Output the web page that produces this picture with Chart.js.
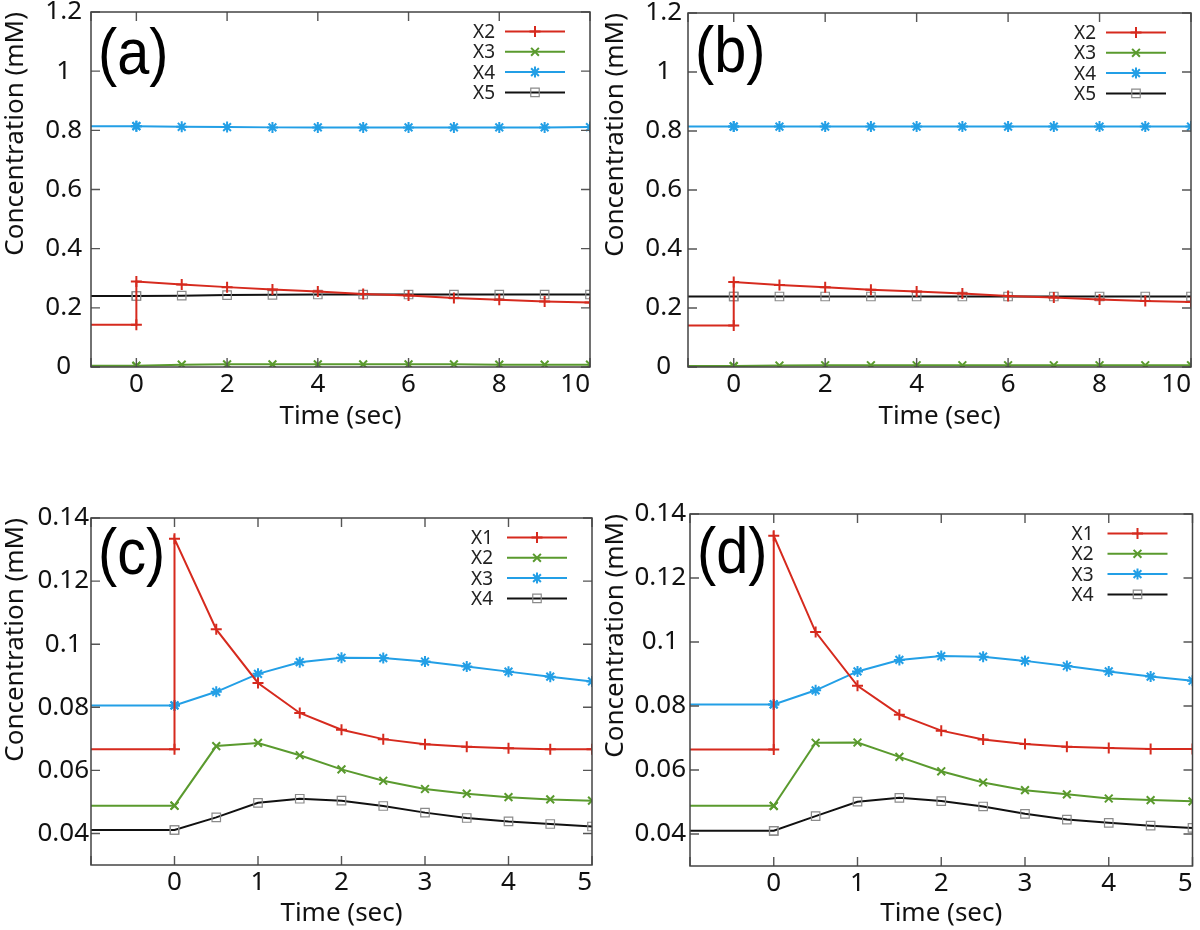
<!DOCTYPE html>
<html>
<head>
<meta charset="utf-8">
<script src="https://cdn.jsdelivr.net/npm/chart.js@4.4.1/dist/chart.umd.min.js"></script>
<style>
  body { margin: 0; background: #fff; }
  #wrap { position: relative; width: 1200px; height: 930px; }
  .panel { position: absolute; width: 600px; }
  #pa { left: 0; top: 0; height: 432px; }
  #pb { left: 600px; top: 0; height: 432px; }
  #pc { left: 0; top: 460px; height: 469px; }
  #pd { left: 600px; top: 460px; height: 469px; }
</style>
</head>
<body>
<div id="wrap">
  <div class="panel" id="pa"><canvas id="chartA"></canvas></div>
  <div class="panel" id="pb"><canvas id="chartB"></canvas></div>
  <div class="panel" id="pc"><canvas id="chartC"></canvas></div>
  <div class="panel" id="pd"><canvas id="chartD"></canvas></div>
</div>
<script>
// ---- data: upper panels (a), (b) ----
var timeTop = [0, 1, 2, 3, 4, 5, 6, 7, 8, 9, 10];
var xTicksTop = [0, 2, 4, 6, 8, 10];
var yTicksTop = [0, 0.2, 0.4, 0.6, 0.8, 1, 1.2];
var namesTop = ['X2', 'X3', 'X4', 'X5'];

// value held before t = 0, then values at timeTop
var a_before = [0.143, 0.004, 0.814, 0.240];
var a_X2 = [0.289, 0.279, 0.270, 0.262, 0.255, 0.247, 0.242, 0.233, 0.227, 0.221, 0.218];
var a_X3 = [0.004, 0.008, 0.009, 0.009, 0.009, 0.009, 0.009, 0.009, 0.008, 0.008, 0.008];
var a_X4 = [0.814, 0.812, 0.811, 0.810, 0.810, 0.810, 0.810, 0.810, 0.810, 0.810, 0.811];
var a_X5 = [0.240, 0.241, 0.243, 0.244, 0.245, 0.245, 0.245, 0.245, 0.245, 0.245, 0.245];

var b_before = [0.141, 0.003, 0.815, 0.239];
var b_X2 = [0.288, 0.278, 0.270, 0.262, 0.256, 0.249, 0.241, 0.236, 0.229, 0.224, 0.220];
var b_X3 = [0.003, 0.005, 0.006, 0.006, 0.006, 0.006, 0.006, 0.006, 0.006, 0.006, 0.006];
var b_X4 = [0.815, 0.815, 0.815, 0.815, 0.815, 0.815, 0.815, 0.815, 0.815, 0.815, 0.815];
var b_X5 = [0.239, 0.239, 0.239, 0.239, 0.239, 0.239, 0.239, 0.239, 0.239, 0.239, 0.239];

// ---- data: lower panels (c), (d) ----
var timeBot = [0, 0.5, 1, 1.5, 2, 2.5, 3, 3.5, 4, 4.5, 5];
var xTicksBot = [0, 1, 2, 3, 4, 5];
var yTicksBot = [0.04, 0.06, 0.08, 0.1, 0.12, 0.14];
var namesBot = ['X1', 'X2', 'X3', 'X4'];

var c_before = [0.0667, 0.0488, 0.0806, 0.0411];
var c_X1 = [0.1334, 0.1047, 0.0877, 0.0782, 0.0729, 0.0699, 0.0683, 0.0675, 0.0670, 0.0667, 0.0667];
var c_X2 = [0.0488, 0.0677, 0.0687, 0.0648, 0.0603, 0.0567, 0.0541, 0.0526, 0.0515, 0.0508, 0.0504];
var c_X3 = [0.0806, 0.0849, 0.0906, 0.0943, 0.0957, 0.0956, 0.0945, 0.0929, 0.0913, 0.0897, 0.0882];
var c_X4 = [0.0411, 0.0451, 0.0497, 0.0510, 0.0504, 0.0487, 0.0466, 0.0449, 0.0438, 0.0430, 0.0422];

var d_before = [0.0664, 0.0488, 0.0805, 0.0410];
var d_X1 = [0.1332, 0.1031, 0.0863, 0.0773, 0.0723, 0.0695, 0.0681, 0.0673, 0.0669, 0.0666, 0.0666];
var d_X2 = [0.0488, 0.0685, 0.0686, 0.0641, 0.0596, 0.0561, 0.0537, 0.0524, 0.0511, 0.0506, 0.0502];
var d_X3 = [0.0805, 0.0849, 0.0908, 0.0944, 0.0956, 0.0954, 0.0941, 0.0925, 0.0908, 0.0892, 0.0879];
var d_X4 = [0.0410, 0.0456, 0.0501, 0.0513, 0.0503, 0.0486, 0.0463, 0.0445, 0.0435, 0.0426, 0.0419];

// line styles: red +, green x, blue *, black open square
var styles = [
    { color: '#d62a1e', point: 'cross', radius: 5.5, pointColor: '#d62a1e', pw: 2 },
    { color: '#5a9a2e', point: 'crossRot', radius: 5.5, pointColor: '#5a9a2e', pw: 2 },
    { color: '#239fe6', point: 'star', radius: 5.5, pointColor: '#239fe6', pw: 2 },
    { color: '#111111', point: 'rect', radius: 6, pointColor: '#8a8a8a', pw: 1.2 }
];

var FONT = '"Noto Sans", "DejaVu Sans", sans-serif';

function series(times, before, values) {
    var pts = [{ x: -1, y: before }, { x: 0, y: before }];
    for (var i = 0; i < times.length; i++) pts.push({ x: times[i], y: values[i] });
    return pts;
}

function makeDatasets(names, times, before, list) {
    return names.map(function (name, i) {
        var s = styles[i];
        return {
            label: name,
            data: series(times, before[i], list[i]),
            showLine: true,
            borderColor: s.color,
            borderWidth: 2,
            pointStyle: s.point,
            pointRadius: function (c) { return c.raw && c.raw.x < 0 ? 0 : s.radius; },
            pointHoverRadius: 0,
            pointBorderColor: s.pointColor,
            pointBackgroundColor: 'rgba(255,255,255,0)',
            pointBorderWidth: s.pw,
            tension: 0
        };
    });
}

// frame with inward ticks on all four sides, panel letter, legend
var framePlugin = {
    id: 'frame',
    afterDatasetsDraw: function (chart, args, opts) {
        var ctx = chart.ctx, a = chart.chartArea, sx = chart.scales.x, sy = chart.scales.y;
        ctx.save();
        ctx.strokeStyle = '#555';
        ctx.lineWidth = 1.4;
        ctx.beginPath();
        sx.ticks.forEach(function (t) {
            var px = sx.getPixelForValue(t.value);
            ctx.moveTo(px, a.bottom); ctx.lineTo(px, a.bottom - 9);
            ctx.moveTo(px, a.top); ctx.lineTo(px, a.top + 9);
        });
        sy.ticks.forEach(function (t) {
            var py = sy.getPixelForValue(t.value);
            ctx.moveTo(a.left, py); ctx.lineTo(a.left + 9, py);
            ctx.moveTo(a.right, py); ctx.lineTo(a.right - 9, py);
        });
        ctx.stroke();
        ctx.strokeStyle = '#444';
        ctx.lineWidth = 1.5;
        ctx.strokeRect(a.left, a.top, a.right - a.left, a.bottom - a.top);

        // panel letter, slightly condensed
        ctx.save();
        ctx.translate(a.left + 7, a.top + opts.labelY);
        ctx.scale(0.9, 1);
        ctx.fillStyle = '#000';
        ctx.font = '64px "Liberation Sans", Arial, sans-serif';
        ctx.textAlign = 'left';
        ctx.textBaseline = 'alphabetic';
        ctx.fillText(opts.label, 0, 0);
        ctx.restore();

        ctx.font = '19px ' + FONT;
        ctx.textAlign = 'right';
        ctx.textBaseline = 'middle';
        chart.data.datasets.forEach(function (ds, i) {
            var y = a.top + 19.5 + i * 20.3;
            var x0 = a.right - 85, x1 = a.right - 25;
            ctx.fillStyle = '#222';
            ctx.fillText(ds.label, x0 - opts.gap, y + 1);
            ctx.strokeStyle = ds.borderColor;
            ctx.lineWidth = 2;
            ctx.beginPath();
            ctx.moveTo(x0, y); ctx.lineTo(x1, y);
            ctx.stroke();
            ctx.strokeStyle = ds.pointBorderColor;
            ctx.fillStyle = 'rgba(255,255,255,0)';
            ctx.lineWidth = ds.pointBorderWidth;
            Chart.helpers.drawPoint(ctx, {
                pointStyle: ds.pointStyle, rotation: 0,
                radius: ds.pointStyle === 'rect' ? 6 : 5.5,
                borderWidth: ds.pointBorderWidth
            }, (x0 + x1) / 2, y);
        });
        ctx.restore();
    }
};

function fmt(v) { return String(Math.round(v * 1000) / 1000); }

function makeChart(id, p) {
    return new Chart(document.getElementById(id), {
        type: 'scatter',
        data: { datasets: p.datasets },
        plugins: [framePlugin],
        options: {
            responsive: true,
            maintainAspectRatio: false,
            animation: false,
            layout: { padding: { left: 0, top: p.top, right: p.right, bottom: 0 } },
            plugins: {
                legend: { display: false },
                tooltip: { enabled: false },
                frame: { label: p.label, gap: p.gap, labelY: p.labelY }
            },
            scales: {
                x: {
                    type: 'linear',
                    min: -1,
                    max: p.xMax,
                    grid: { display: false, drawTicks: false },
                    border: { display: false },
                    // the axis start gets an empty label so 'inner' only pulls the last label inside
                    afterBuildTicks: function (s) {
                        s.ticks = [{ value: -1 }].concat(p.xTicks.map(function (v) { return { value: v }; }));
                    },
                    afterFit: function (s) { s.height = p.xHeight; s.paddingLeft = 0; s.paddingRight = 0; },
                    ticks: {
                        autoSkip: false, maxRotation: 0, padding: 2, color: '#111', align: 'inner',
                        font: { family: FONT, size: 26 },
                        callback: function (v) { return v < 0 ? '' : fmt(v); }
                    },
                    title: {
                        display: true, text: 'Time (sec)', color: '#111',
                        font: { family: FONT, size: 26 }, padding: { top: 0, bottom: 0 }
                    }
                },
                y: {
                    type: 'linear',
                    min: p.yMin,
                    max: p.yMax,
                    grid: { display: false, drawTicks: false },
                    border: { display: false },
                    afterBuildTicks: function (s) { s.ticks = p.yTicks.map(function (v) { return { value: v }; }); },
                    afterFit: function (s) { s.width = p.yWidth; s.paddingTop = 0; s.paddingBottom = 0; },
                    ticks: {
                        autoSkip: false, padding: p.yPad, crossAlign: 'center', color: '#111',
                        font: { family: FONT, size: 26 }, callback: fmt
                    },
                    title: {
                        display: true, text: 'Concentration (mM)', align: 'end', color: '#111',
                        font: { family: FONT, size: 26 }, padding: { top: 0, bottom: 0 }
                    }
                }
            }
        }
    });
}

makeChart('chartA', {
    label: '(a)', labelY: 62, gap: 10, top: 12, right: 10, xHeight: 65, yWidth: 91, yPad: 9,
    xMax: 10, yMin: 0, yMax: 1.2, xTicks: xTicksTop, yTicks: yTicksTop,
    datasets: makeDatasets(namesTop, timeTop, a_before, [a_X2, a_X3, a_X4, a_X5])
});
makeChart('chartB', {
    label: '(b)', labelY: 59, gap: 10, top: 13, right: 9, xHeight: 65, yWidth: 88, yPad: 6,
    xMax: 10, yMin: 0, yMax: 1.2, xTicks: xTicksTop, yTicks: yTicksTop,
    datasets: makeDatasets(namesTop, timeTop, b_before, [b_X2, b_X3, b_X4, b_X5])
});
makeChart('chartC', {
    label: '(c)', labelY: 56, gap: 14, top: 58, right: 8, xHeight: 64, yWidth: 91, yPad: 2,
    xMax: 5, yMin: 0.03, yMax: 0.14, xTicks: xTicksBot, yTicks: yTicksBot,
    datasets: makeDatasets(namesBot, timeBot, c_before, [c_X1, c_X2, c_X3, c_X4])
});
makeChart('chartD', {
    label: '(d)', labelY: 59, gap: 14, top: 54, right: 6, xHeight: 63, yWidth: 90, yPad: 4,
    xMax: 5, yMin: 0.03, yMax: 0.14, xTicks: xTicksBot, yTicks: yTicksBot,
    datasets: makeDatasets(namesBot, timeBot, d_before, [d_X1, d_X2, d_X3, d_X4])
});
</script>
</body>
</html>
